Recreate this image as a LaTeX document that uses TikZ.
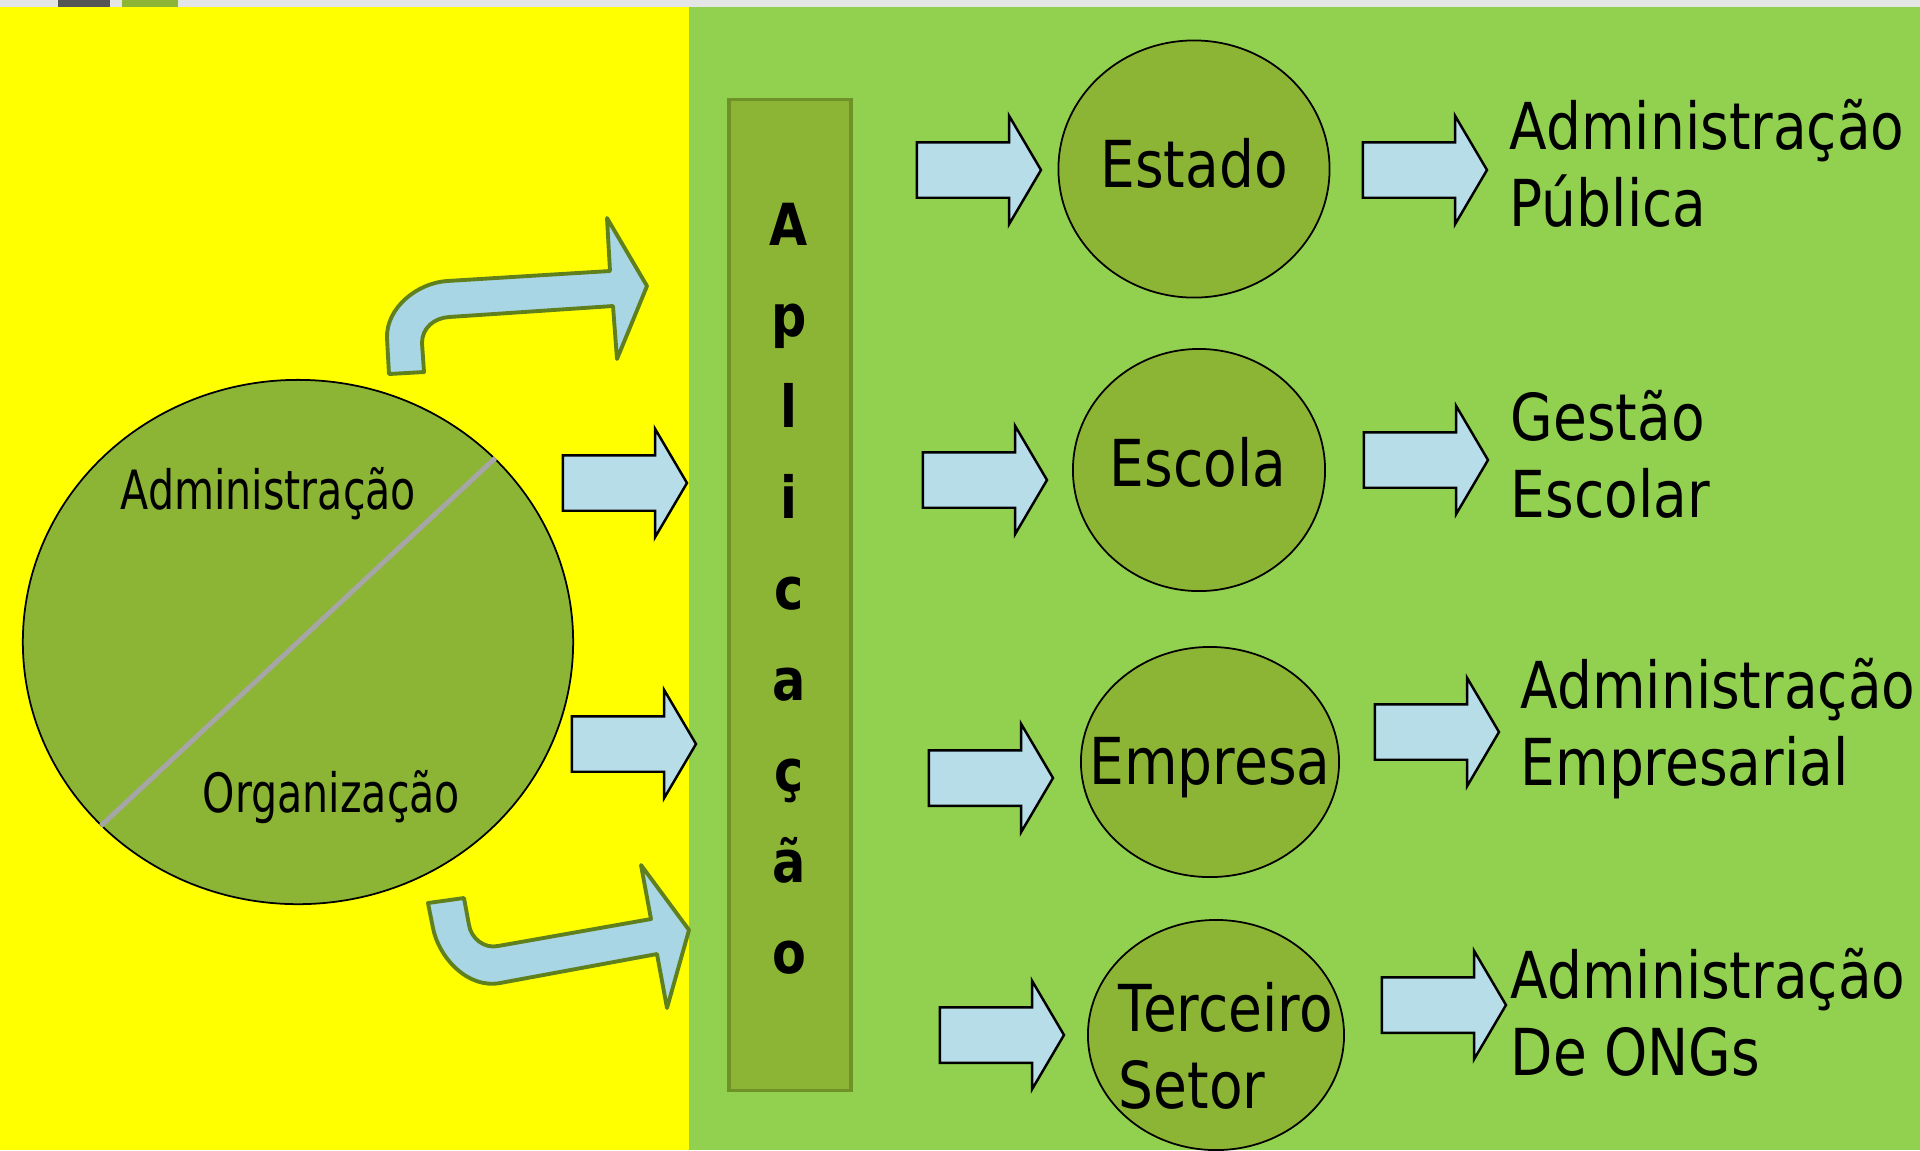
\documentclass[tikz,border=0pt]{standalone}
\usepackage{fontspec}
\setmainfont{DejaVu Sans}
\newfontfamily\condfont[FakeStretch=0.85]{DejaVu Sans}
\newfontfamily\narrowfont[FakeStretch=0.76]{DejaVu Sans}
\usetikzlibrary{shapes.geometric, shapes.arrows}
\definecolor{yellowbg}{RGB}{255,255,0}
\definecolor{greenbg}{RGB}{146,208,80}
\definecolor{olivefill}{RGB}{140,180,53}
\definecolor{olivedark}{RGB}{110,145,40}
\definecolor{arrowblue}{RGB}{183,222,232}
\definecolor{bentblue}{RGB}{168,214,229}
\definecolor{bentline}{RGB}{96,128,30}
\definecolor{topgray}{RGB}{228,230,230}
\definecolor{topdark}{RGB}{85,85,85}
\definecolor{diaggray}{RGB}{166,166,166}

\begin{document}
\begin{tikzpicture}[x=0.01cm,y=-0.01cm]
  \tikzset{CircStyle/.style = {shape=ellipse,draw=black,line width=0.5pt,fill=olivefill,inner sep=0pt},
  ArrowStyle/.style = {single arrow,draw=black,fill=arrowblue,line width=0.7pt,inner xsep=0pt,inner ysep=0.265cm,
    single arrow head extend=0.265cm,single arrow tip angle=119,minimum height=1.24cm,outer sep=0pt,anchor=tip},
  BentStyle/.style = {fill=bentblue,draw=bentline,line width=1.1pt,line join=round},
  TxtStyle/.style = {font=\condfont\fontsize{18.4}{21.9}\selectfont,inner sep=0pt,anchor=base west,align=left},
  SmallTxt/.style = {font=\narrowfont\fontsize{15.4}{18}\selectfont,inner sep=0pt,anchor=base west},
  BarTxt/.style = {font=\condfont\bfseries\fontsize{16.5}{20}\selectfont,inner sep=0pt,anchor=base}}
\useasboundingbox (0,0) rectangle (1920,1150);
\fill[topgray] (0,0) rectangle (1920,7);
\fill[topdark] (58,0) rectangle (110,7);
\fill[olivefill] (122,0) rectangle (178,7);
\fill[yellowbg] (0,7) rectangle (689,1150);
\fill[greenbg] (689,7) rectangle (1920,1150);
%
\node[CircStyle,minimum width=5.50cm,minimum height=5.24cm] (c0) at (298,642) {};
\draw[diaggray,line width=1.4pt] (c0.43.4) -- (c0.223.6);
\node[SmallTxt] (t0a) at (120,509) {Administração};
\node[SmallTxt] (t0b) at (202,812) {Organização};
%
\draw[BentStyle] (389,374) -- (387,338) .. controls (386,308) and (417,283) .. (447,281) -- (610,271) -- (607,218)
  -- (647,286) -- (617,359) -- (613,306) -- (449,317) .. controls (434,318) and (422,328) .. (422,343) -- (424,372) -- cycle;
\draw[BentStyle] (428,903) -- (433,928) .. controls (439,958) and (468,989) .. (500,983) -- (657,954) -- (667,1008)
  -- (689,930) -- (641,865) -- (651,919) -- (498,946) .. controls (484,949) and (471,938) .. (469,925) -- (464,898) -- cycle;
%
\node[ArrowStyle] (a1) at (687,483) {};
\node[ArrowStyle] (a2) at (696,744) {};
%
\node[draw=olivedark,line width=1pt,fill=olivefill,minimum width=1.22cm,minimum height=9.90cm,inner sep=0pt] (bar) at (790,595) {};
\node[BarTxt] (b1) at (789,245) {A};
\node[BarTxt] (b2) at (789,336) {p};
\node[BarTxt] (b3) at (789,427) {l};
\node[BarTxt] (b4) at (789,518) {i};
\node[BarTxt] (b5) at (789,609) {c};
\node[BarTxt] (b6) at (789,700) {a};
\node[BarTxt] (b7) at (789,791) {ç};
\node[BarTxt] (b8) at (789,882) {ã};
\node[BarTxt] (b9) at (789,973) {o};
%
\node[ArrowStyle] (a3) at (1041,170) {};
\node[ArrowStyle] (a5) at (1047,480) {};
\node[ArrowStyle] (a7) at (1053,778) {};
\node[ArrowStyle] (a9) at (1064,1035) {};
%
\node[CircStyle,minimum width=2.71cm,minimum height=2.57cm] (c1) at (1194,169) {};
\node[CircStyle,minimum width=2.52cm,minimum height=2.42cm] (c2) at (1199,470) {};
\node[CircStyle,minimum width=2.58cm,minimum height=2.30cm] (c3) at (1210,762) {};
\node[CircStyle,minimum width=2.56cm,minimum height=2.30cm] (c4) at (1216,1035) {};
\node[TxtStyle,anchor=base] (t1) at (1194,187) {Estado};
\node[TxtStyle,anchor=base] (t2) at (1198,486) {Escola};
\node[TxtStyle,anchor=base] (t3) at (1210,784) {Empresa};
\node[TxtStyle] (t4) at (1118,1108) {Terceiro\\Setor};
%
\node[ArrowStyle] (a4) at (1487,170) {};
\node[ArrowStyle] (a6) at (1488,460) {};
\node[ArrowStyle] (a8) at (1499,732) {};
\node[ArrowStyle] (a10) at (1506,1005) {};
%
\node[TxtStyle] (r1) at (1509,226) {Administração\\Pública};
\node[TxtStyle] (r2) at (1510,517) {Gestão\\Escolar};
\node[TxtStyle] (r3) at (1520,785) {Administração\\Empresarial};
\node[TxtStyle] (r4) at (1510,1075) {Administração\\De ONGs};
\end{tikzpicture}
\end{document}
